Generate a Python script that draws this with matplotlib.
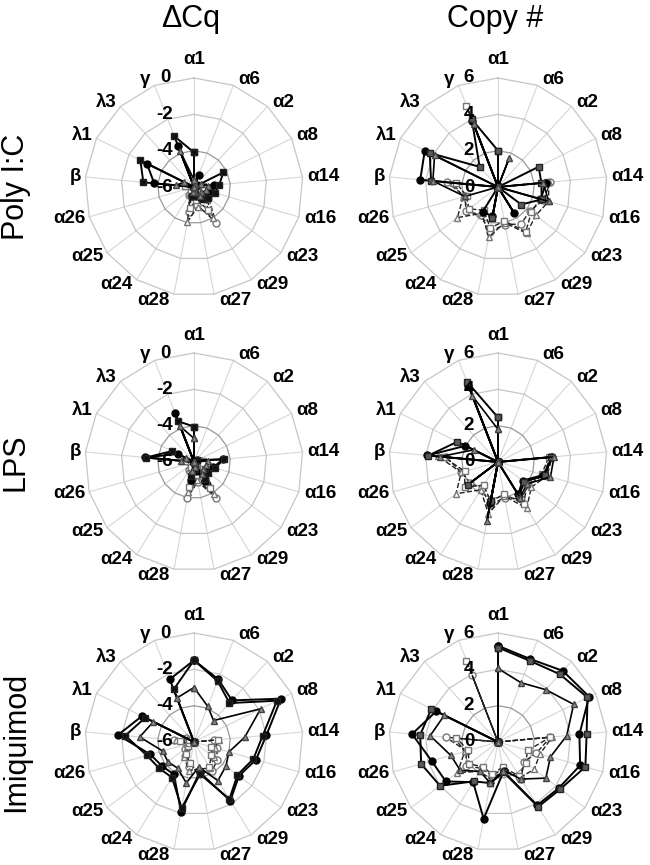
import numpy as np
import matplotlib
matplotlib.use("Agg")
import matplotlib.pyplot as plt

plt.rcParams['font.family'] = ['Liberation Sans', 'DejaVu Sans']

categories = ['α1', 'α6', 'α2', 'α8', 'α14', 'α16', 'α23', 'α29', 'α27',
              'α28', 'α24', 'α25', 'α26', 'β', 'λ1', 'λ3', 'γ']
col_titles = ['ΔCq', 'Copy #']
row_titles = ['Poly I:C', 'LPS', 'Imiquimod']
dcq_ticks = [0, -2, -4, -6]
copy_ticks = [6, 4, 2, 0]

# ---- ΔCq, Poly I:C ----
pic_dcq_s1 = [-6, -5.3, -6, -5.8, -4.9, -5.0, -5.2, -5.3, -5.5, -5.5, -6, -6, -6, -3.8, -3.1, -6, -3.6]
pic_dcq_s2 = [-4.1, -6, -6, -4.2, -4.6, -4.8, -5.0, -5.2, -5.6, -5.5, -6, -6, -6, -3.2, -2.7, -6, -3.0]
pic_dcq_s3 = [-5.6, -5.8, -6, -5.6, -5.2, -5.3, -5.5, -5.4, -5.7, -5.7, -6, -6, -6, -5.0, -5.4, -6, -3.9]
pic_dcq_d1 = [-6, -6, -6, -6, -5.6, -5.5, -5.0, -3.7, -5.0, -4.6, -5.5, -6, -6, -6, -6, -6, -6]
pic_dcq_d2 = [-6, -6, -6, -6, -5.7, -5.4, -5.2, -4.0, -4.9, -4.05, -5.6, -6, -6, -5.6, -6, -6, -6]
pic_dcq_d3 = [-6, -6, -6, -6, -5.5, -5.4, -5.3, -4.5, -5.3, -4.8, -5.7, -6, -6, -5.5, -6, -6, -6]

# ---- ΔCq, LPS ----
lps_dcq_s1 = [-6, -6, -6, -5.8, -4.4, -4.9, -5.2, -4.8, -5.5, -5.0, -6, -6, -6, -3.3, -5.0, -6, -3.1]
lps_dcq_s2 = [-4.05, -6, -6, -5.8, -4.35, -4.8, -5.0, -4.9, -5.6, -5.2, -6, -6, -6, -3.35, -4.65, -6, -3.6]
lps_dcq_s3 = [-4.7, -6, -6, -6, -5.2, -5.3, -5.4, -5.2, -5.7, -5.5, -6, -6, -6, -5.3, -5.5, -6, -3.9]
lps_dcq_d1 = [-6, -6, -6, -6, -5.6, -5.5, -5.2, -3.7, -4.9, -4.0, -5.5, -6, -6, -5.6, -6, -6, -6]
lps_dcq_d2 = [-6, -6, -6, -6, -5.7, -5.6, -5.3, -3.9, -5.0, -4.3, -5.6, -6, -6, -5.7, -6, -6, -6]
lps_dcq_d3 = [-6, -6, -6, -6, -5.5, -5.5, -5.4, -4.3, -5.3, -4.6, -5.7, -6, -6, -5.5, -6, -6, -6]

# ---- ΔCq, Imiquimod ----
imq_dcq_s1 = [-1.5, -2.3, -2.9, -0.65, -2.0, -2.45, -2.9, -2.2, -4.3, -2.1, -3.9, -3.8, -3.5, -1.8, -2.8, -6, -2.3]
imq_dcq_s2 = [-1.5, -2.4, -3.1, -0.9, -2.2, -2.6, -3.0, -2.3, -4.2, -2.3, -3.7, -3.6, -3.3, -2.2, -3.0, -6, -2.9]
imq_dcq_s3 = [-3.0, -3.9, -4.4, -1.9, -3.2, -4.0, -3.8, -3.5, -4.6, -3.7, -4.3, -4.2, -4.2, -3.0, -3.5, -6, -3.4]
imq_dcq_d1 = [-6, -6, -6, -6, -4.9, -4.7, -4.4, -4.1, -4.3, -4.6, -5.1, -5.4, -5.6, -4.9, -5.5, -6, -6]
imq_dcq_d2 = [-6, -6, -6, -6, -4.6, -4.8, -4.6, -4.3, -4.5, -4.4, -5.0, -5.5, -5.6, -5.0, -5.6, -6, -6]
imq_dcq_d3 = [-6, -6, -6, -6, -4.7, -5.0, -4.8, -4.4, -4.2, -4.8, -5.2, -5.6, -5.7, -5.2, -5.7, -6, -6]

# ---- Copy #, Poly I:C ----
pic_copy_s1 = [0, 0, 0, 0, 2.65, 2.45, 0, 1.7, 0, 1.65, 1.6, 0, 0, 4.3, 4.5, 0, 3.9]
pic_copy_s2 = [2.0, 0, 0, 2.5, 2.4, 2.5, 1.6, 0, 0, 1.75, 0, 0, 0, 3.7, 4.2, 1.5, 4.0]
pic_copy_s3 = [0, 1.7, 0, 0, 2.5, 2.9, 0, 0, 0, 0, 0, 0, 1.9, 3.6, 3.9, 0, 3.7]
pic_copy_d1 = [0, 0, 0, 0, 2.9, 2.6, 2.2, 2.4, 2.1, 2.5, 1.8, 2.2, 1.9, 2.8, 0, 0, 0]
pic_copy_d2 = [0, 0, 0, 0, 2.8, 2.9, 2.6, 3.0, 2.0, 2.8, 1.7, 2.8, 2.0, 2.5, 0, 0, 0]
pic_copy_d3 = [0, 0, 0, 0, 2.7, 2.4, 2.3, 2.9, 1.9, 2.3, 1.5, 2.0, 1.8, 2.3, 0, 0, 4.8]

# ---- Copy #, LPS ----
lps_copy_s1 = [0, 0, 0, 0, 3.0, 2.6, 1.7, 2.1, 0, 2.3, 0, 0, 0, 3.9, 2.0, 0, 4.5]
lps_copy_s2 = [2.45, 0, 0, 0, 2.95, 2.7, 1.8, 2.2, 0, 2.2, 0, 2.1, 0, 3.85, 2.5, 0, 4.75]
lps_copy_s3 = [1.8, 0, 0, 0, 3.1, 3.0, 2.0, 2.3, 0, 3.3, 0, 0, 0, 3.2, 1.5, 0, 3.9]
lps_copy_d1 = [0, 0, 0, 0, 2.9, 2.6, 2.1, 2.4, 2.0, 2.4, 1.7, 1.9, 2.1, 2.85, 0, 0, 0]
lps_copy_d2 = [0, 0, 0, 0, 3.0, 2.8, 2.3, 3.0, 1.9, 2.9, 1.8, 2.9, 2.1, 3.3, 0, 0, 0]
lps_copy_d3 = [0, 0, 0, 0, 2.8, 2.5, 2.0, 2.7, 1.8, 2.2, 1.5, 2.3, 1.9, 3.0, 0, 0, 0]

# ---- Copy #, Imiquimod ----
imq_copy_s1 = [5.3, 4.9, 5.3, 5.6, 4.5, 4.7, 4.2, 4.1, 1.65, 4.3, 2.6, 3.6, 3.8, 4.75, 3.8, 0, 0]
imq_copy_s2 = [5.2, 4.8, 5.05, 5.5, 4.9, 5.0, 4.3, 4.2, 1.7, 2.3, 2.55, 4.0, 4.4, 4.3, 4.1, 0, 0]
imq_copy_s3 = [4.05, 3.5, 3.9, 4.65, 3.8, 3.0, 3.3, 2.4, 1.6, 2.3, 1.9, 2.6, 2.7, 3.75, 3.3, 0, 0]
imq_copy_d1 = [0, 0, 0, 0, 2.9, 2.2, 1.8, 2.4, 1.5, 1.9, 1.7, 2.2, 1.8, 2.9, 0, 0, 3.95]
imq_copy_d2 = [0, 0, 0, 0, 3.0, 2.4, 2.5, 2.3, 1.6, 2.1, 1.9, 2.8, 1.9, 2.4, 0, 0, 0]
imq_copy_d3 = [0, 0, 0, 0, 2.9, 1.7, 1.9, 2.2, 1.4, 1.8, 1.6, 2.0, 1.7, 2.3, 0, 0, 4.8]

panels = [
    (0, 0, dcq_ticks, [pic_dcq_s1, pic_dcq_s2, pic_dcq_s3, pic_dcq_d1, pic_dcq_d2, pic_dcq_d3]),
    (0, 1, copy_ticks, [pic_copy_s1, pic_copy_s2, pic_copy_s3, pic_copy_d1, pic_copy_d2, pic_copy_d3]),
    (1, 0, dcq_ticks, [lps_dcq_s1, lps_dcq_s2, lps_dcq_s3, lps_dcq_d1, lps_dcq_d2, lps_dcq_d3]),
    (1, 1, copy_ticks, [lps_copy_s1, lps_copy_s2, lps_copy_s3, lps_copy_d1, lps_copy_d2, lps_copy_d3]),
    (2, 0, dcq_ticks, [imq_dcq_s1, imq_dcq_s2, imq_dcq_s3, imq_dcq_d1, imq_dcq_d2, imq_dcq_d3]),
    (2, 1, copy_ticks, [imq_copy_s1, imq_copy_s2, imq_copy_s3, imq_copy_d1, imq_copy_d2, imq_copy_d3]),
]

W, H = 650, 865
R = 109
col_x = [194, 498]
row_y = [187, 462, 742]
PT = 0.72  # points per pixel at 100 dpi

fig = plt.figure(figsize=(W / 100, H / 100), dpi=100)

n = len(categories)
theta = np.arange(n) * 2 * np.pi / n
theta_c = np.append(theta, theta[0])

def styles(col):
    sq_face = '#111111' if col == 0 else '#5a5a5a'
    return [
        dict(ls='-', lw=1.4, color='black', marker='o', mfc='black', mec='black', ms=5),
        dict(ls='-', lw=1.4, color='black', marker='s', mfc=sq_face, mec='#222222', ms=5),
        dict(ls='-', lw=1.2, color='black', marker='^', mfc='#8a8a8a', mec='#444444', ms=5),
        dict(ls='--', lw=1.0, color='#222222', marker='o', mfc='white', mec='#777777', ms=5),
        dict(ls='--', lw=1.0, color='#222222', marker='^', mfc='white', mec='#777777', ms=5),
        dict(ls='--', lw=1.0, color='#222222', marker='s', mfc='white', mec='#777777', ms=5),
    ]

for row, col, ticks, series in panels:
    cx, cy = col_x[col], row_y[row]
    ax = fig.add_axes([(cx - R) / W, (H - cy - R) / H, 2 * R / W, 2 * R / H],
                      projection='polar')
    rmax, rmin = max(ticks), min(ticks)
    ax.set_theta_zero_location('N')
    ax.set_theta_direction(-1)
    ax.set_ylim(rmin, rmax)
    ax.grid(False)
    ax.set_xticks([])
    ax.set_yticks([])
    ax.spines['polar'].set_visible(False)
    ax.patch.set_alpha(0)
    # spokes
    for t in theta:
        ax.plot([t, t], [rmin, rmax], color='#d6d6d6', lw=0.8, zorder=1, clip_on=False)
    # polygon rings
    sorted_ticks = sorted(ticks)
    for k, v in enumerate(sorted_ticks[1:]):
        c = '#999999' if k == 0 else '#c6c6c6'
        ax.plot(theta_c, [v] * (n + 1), color=c, lw=0.9, zorder=1, clip_on=False)
    # series (dashed first)
    st = styles(col)
    for i in [3, 4, 5, 0, 1, 2]:
        vals = series[i]
        ax.plot(theta_c, vals + [vals[0]], zorder=3 if i < 3 else 2, clip_on=False, **st[i])
    # category labels, Excel-like placement beside each outer vertex
    for k, (t, lab) in enumerate(zip(theta, categories)):
        s, c = np.sin(t), np.cos(t)
        if k == 0:
            ax.annotate(lab, xy=(t, rmax), xytext=(0, 18 * PT), textcoords='offset points',
                        ha='center', va='center', fontsize=13.5, fontweight='bold',
                        annotation_clip=False)
        else:
            ha = 'left' if s > 0 else 'right'
            dx = (5 if s > 0 else -4)
            dy = c * 6
            ax.annotate(lab, xy=(t, rmax), xytext=(dx * PT, dy * PT), textcoords='offset points',
                        ha=ha, va='center', fontsize=13.5, fontweight='bold',
                        annotation_clip=False)
    # value labels
    for v in ticks:
        ax.annotate(str(v), xy=(0, v), xytext=(-29 * PT, 0), textcoords='offset points',
                    ha='center', va='center', fontsize=13.5, fontweight='bold',
                    annotation_clip=False, zorder=4)

for j, t in enumerate(col_titles):
    fig.text(col_x[j] / W - 0.005, 1 - 19 / H, t, ha='center', va='center', fontsize=22)
for i, t in enumerate(row_titles):
    fig.text(16 / W, 1 - row_y[i] / H, t, ha='center', va='center', fontsize=22, rotation=90)

fig.savefig('out.png', dpi=100)
